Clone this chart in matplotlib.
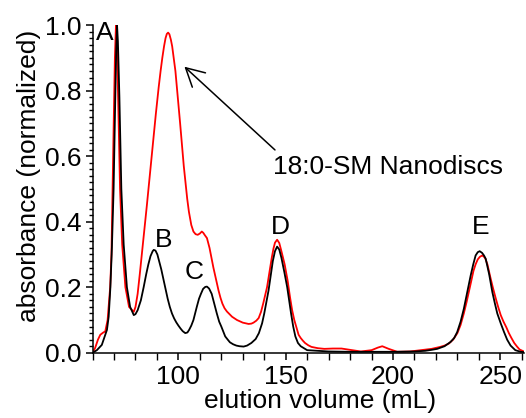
import matplotlib
matplotlib.use("Agg")
import matplotlib.pyplot as plt
from matplotlib.ticker import MultipleLocator, FormatStrFormatter

plt.rcParams['font.family'] = ['Liberation Sans', 'DejaVu Sans']

# SEC trace of the empty protein / standards (black)
vol_black = [60, 62, 64.3, 66.7, 67.5, 68.3, 69.0, 69.8, 70.5, 71.0, 71.4, 71.8,
             72.5, 73.4, 74.5, 76, 77.5, 79.2, 80, 81, 82.5, 83.8, 85, 86, 87, 88,
             88.5, 89.3, 90.2, 91, 92, 93, 94, 95, 96, 97, 98, 99, 100, 101, 102,
             103.2, 104.2, 105, 106, 107, 108.6, 109.6, 110.5, 111.5, 112.5, 113.3,
             114.3, 115.5, 116.7, 117.9, 119, 120, 121.8, 123, 124, 125.5, 127,
             128.5, 130.4, 132, 134, 136, 137.5, 139, 140, 141, 142, 143, 144, 145,
             146, 147, 148, 149.4, 150.7, 151.6, 152.5, 153.5, 154.5, 155.7, 157,
             160, 170, 180, 190, 200, 210, 215, 218, 220.6, 224, 226.8, 228.5,
             229.9, 231.5, 233, 234.6, 236.2, 237.4, 238.5, 239.5, 240.4, 241.5,
             242.4, 243.2, 244.8, 246.3, 247.5, 248.6, 250.2, 251.7, 253.2, 254.8,
             257, 259.5, 261]
abs_black = [0.0, 0.008, 0.024, 0.07, 0.11, 0.2, 0.32, 0.5, 0.75, 0.92, 1.0, 0.95,
             0.78, 0.5, 0.33, 0.2, 0.14, 0.115, 0.118, 0.13, 0.16, 0.2, 0.24, 0.27, 0.295, 0.31,
             0.314, 0.312, 0.3, 0.28, 0.255, 0.225, 0.195, 0.165, 0.14, 0.12, 0.105, 0.093,
             0.083, 0.074, 0.066,
             0.06, 0.062, 0.07, 0.083, 0.1, 0.141, 0.165, 0.18, 0.195, 0.201, 0.202,
             0.196, 0.18, 0.15, 0.12, 0.095, 0.08, 0.05, 0.04, 0.032, 0.026, 0.022,
             0.02, 0.019, 0.022, 0.03, 0.042, 0.06, 0.09, 0.12, 0.155, 0.19, 0.235, 0.28, 0.31,
             0.324, 0.315, 0.29, 0.245, 0.2, 0.16, 0.12, 0.08, 0.05, 0.03, 0.02,
             0.008, 0.004, 0.003, 0.003, 0.003, 0.004, 0.006, 0.009, 0.012, 0.02, 0.033, 0.045,
             0.063, 0.095, 0.134, 0.185, 0.236, 0.27, 0.297, 0.307, 0.31, 0.305,
             0.297, 0.287, 0.24, 0.185, 0.15, 0.12, 0.09, 0.064, 0.04, 0.022,
             0.008, 0.003, 0.002]

# 18:0-SM nanodisc sample (red)
vol_red = [60, 61.2, 62.5, 63.6, 65, 65.9, 67, 68.2, 68.8, 69.3, 69.9, 70.4, 70.9,
           71.3, 71.9, 72.8, 73.8, 75.3, 77, 79.2, 80, 81, 82, 83, 84.2, 85.3, 86.5,
           87.7, 88.6, 89.5, 90.8, 91.7, 92.5, 93.3, 94, 94.6, 95.2, 95.8, 96.5,
           97.1, 97.6, 98.6, 99.3, 100, 100.8, 101.7, 102.5, 103.3, 104.1, 104.9,
           106, 107, 108, 109, 110, 110.9, 111.6, 112.2, 113.3, 114.5, 115.6, 116.3,
           117, 118.7, 119.6, 120.5, 121.5, 122.6, 125, 127.3, 130, 132.7, 134, 135,
           136.3, 137.4, 138.5, 139.5, 140.4, 141.3, 142.5, 143.5, 144.3, 145, 146,
           147, 148, 149.5, 150.9, 152, 153, 154, 155.3, 156, 157, 158, 159, 160.5,
           162, 165, 168, 172, 176, 180, 185, 190, 193, 195, 198, 202, 208, 213,
           218, 222, 224, 226, 228, 230, 231.5, 233, 234.3, 235.5, 236.5, 237.5,
           238.5, 239.5, 240.5, 241.6, 242.4, 243, 244, 245.2, 246.5, 247.8, 249,
           250.2, 251.5, 252.8, 254, 255.2, 256.5, 257.8, 259, 261]
abs_red = [0.0, 0.015, 0.04, 0.055, 0.062, 0.065, 0.1, 0.2, 0.3, 0.5, 0.72, 0.9, 1.0,
           0.95, 0.78, 0.5, 0.33, 0.2, 0.14, 0.125, 0.14, 0.18, 0.24, 0.305, 0.38, 0.45, 0.53,
           0.61, 0.67, 0.73, 0.81, 0.86, 0.9, 0.935, 0.96, 0.973, 0.977, 0.972, 0.955,
           0.935, 0.91, 0.86, 0.81, 0.76, 0.7, 0.63, 0.57, 0.52, 0.47, 0.43,
           0.39, 0.37, 0.362, 0.36, 0.364, 0.37, 0.366, 0.36, 0.35, 0.32, 0.283, 0.26,
           0.24, 0.19, 0.168, 0.15, 0.136, 0.126, 0.11, 0.1, 0.092, 0.088, 0.089, 0.092,
           0.098, 0.106, 0.125, 0.15, 0.175, 0.2, 0.25, 0.29, 0.318, 0.336, 0.345,
           0.335, 0.31, 0.27, 0.22, 0.17, 0.13, 0.1, 0.07, 0.055, 0.045, 0.037, 0.03, 0.023,
           0.018, 0.014, 0.012, 0.013, 0.013, 0.009, 0.004, 0.008, 0.016, 0.02, 0.012, 0.003, 0.004, 0.008,
           0.012, 0.018, 0.022, 0.028, 0.04, 0.06, 0.085, 0.12, 0.155, 0.19, 0.22, 0.25,
           0.27, 0.285, 0.293, 0.297, 0.293, 0.288, 0.27, 0.235, 0.2, 0.168, 0.14,
           0.115, 0.095, 0.078, 0.06, 0.045, 0.03, 0.019, 0.01, 0.004]

peak_names = ['A', 'B', 'C', 'D', 'E']
peak_x = [65.8, 93.2, 107.3, 147.6, 240.8]
peak_y = [0.975, 0.345, 0.247, 0.385, 0.385]

fig = plt.figure(figsize=(5.26, 4.18), dpi=100)
ax = fig.add_axes([0.176, 0.156, 0.82, 0.784])

ax.plot(vol_red, abs_red, color='#ff0000', lw=1.3, solid_joinstyle='round')
ax.plot(vol_black, abs_black, color='black', lw=1.3, solid_joinstyle='round')

for name, px, py in zip(peak_names, peak_x, peak_y):
    ax.text(px, py, name, fontsize=19, ha='center', va='center')

ax.annotate('', xy=(102.8, 0.873), xytext=(145, 0.619),
            arrowprops=dict(arrowstyle='->,head_length=0.65,head_width=0.35',
                            color='black', lw=1.1, shrinkA=0, shrinkB=0,
                            mutation_scale=20))
ax.text(144.3, 0.567, '18:0-SM Nanodiscs', fontsize=19, ha='left', va='center')

ax.set_xlim(60, 261)
ax.set_ylim(0, 1.0)
ax.xaxis.set_major_locator(MultipleLocator(50))
ax.xaxis.set_minor_locator(MultipleLocator(10))
ax.yaxis.set_major_locator(MultipleLocator(0.2))
ax.yaxis.set_minor_locator(MultipleLocator(0.02))
ax.yaxis.set_major_formatter(FormatStrFormatter('%.1f'))

for side in ['top', 'right']:
    ax.spines[side].set_visible(False)
for side in ['left', 'bottom']:
    ax.spines[side].set_linewidth(1.1)

ax.tick_params(axis='both', which='major', direction='out', length=5, width=1.1,
               labelsize=19, pad=3)
ax.tick_params(axis='both', which='minor', direction='out', length=3, width=1.0)
ax.tick_params(axis='x', which='major', length=5, pad=4)
ax.tick_params(axis='x', which='minor', length=5)

ax.set_xlabel('elution volume (mL)', fontsize=19)
ax.set_ylabel('absorbance (normalized)', fontsize=19)
ax.xaxis.set_label_coords(0.527, -0.11)
ax.yaxis.set_label_coords(-0.12, 0.54)

fig.savefig('out.png', dpi=100)
